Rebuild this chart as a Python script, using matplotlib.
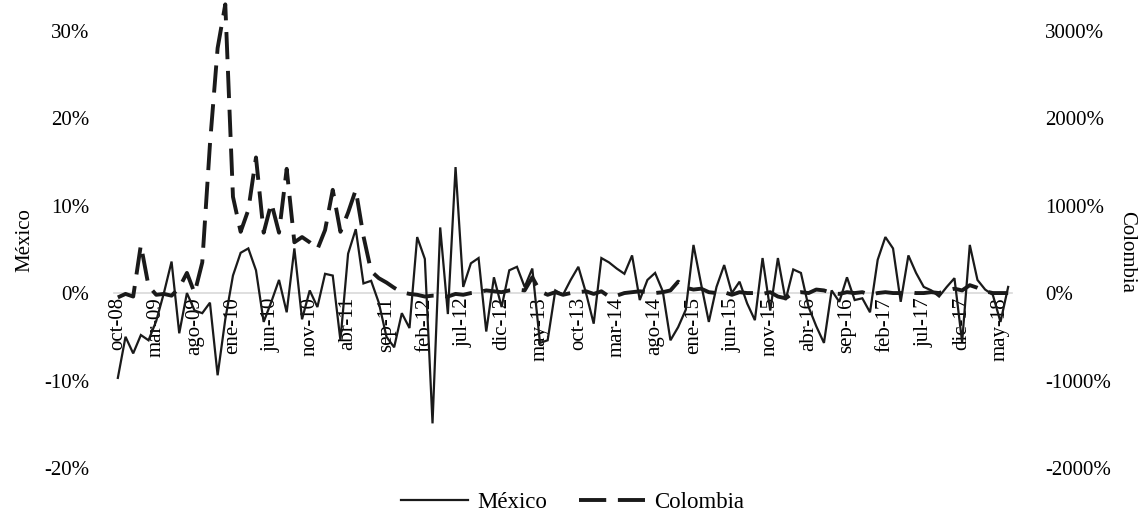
import matplotlib
matplotlib.use("Agg")
import matplotlib.pyplot as plt
from matplotlib.ticker import FuncFormatter

plt.rcParams['font.family'] = ['Liberation Serif', 'DejaVu Serif']

# Monthly series, oct-08 .. jun-18
mexico = [
    -9.7, -5.0, -6.9, -4.8, -5.4, -3.2, 0.0, 3.6, -4.6, 0.0,
    -2.0, -2.3, -1.1, -9.4, -3.0, 2.0, 4.6, 5.1, 2.6, -3.3,
    -1.0, 1.5, -2.2, 5.1, -3.0, 0.3, -1.6, 2.2, 2.0, -5.4,
    4.5, 7.3, 1.1, 1.4, -1.1, -5.0, -6.2, -2.3, -4.0, 6.4,
    3.9, -14.9, 7.5, -2.4, 14.4, 0.7, 3.4, 4.0, -4.4, 1.8,
    -1.6, 2.6, 3.0, 0.7, 2.8, -5.7, -5.4, 0.3, -0.2, 1.5,
    3.0, 0.0, -3.5, 4.0, 3.5, 2.8, 2.2, 4.3, -0.8, 1.5,
    2.3, 0.2, -5.4, -3.9, -1.9, 5.5, 1.0, -3.3, 0.7, 3.2,
    0.0, 1.3, -1.2, -3.1, 4.0, -2.0, 4.0, -0.8, 2.7, 2.3,
    -1.6, -3.8, -5.7, 0.3, -1.0, 1.8, -0.8, -0.6, -2.2, 3.8,
    6.4, 5.1, -1.0, 4.3, 2.3, 0.7, 0.3, -0.4, 0.7, 1.7,
    -5.6, 5.5, 1.5, 0.4, -0.2, -3.3, 0.7,
]
colombia = [
    -50, -10, -40, 550, 80, -20, -10, -30, 60, 230,
    0, 350, 1700, 2800, 3300, 1100, 700, 950, 1550, 690,
    1030, 690, 1420, 580, 640, 580, 500, 720, 1180, 700,
    920, 1180, 650, 250, 170, 120, 60, 10, -10, -20,
    -40, -30, -30, -40, -10, -20, 0, 10, 30, 20,
    10, 30, 40, 30, 180, 20, -20, 10, -20, 0,
    10, 20, -10, 20, -40, -30, 0, 10, 20, 10,
    0, 10, 30, 130, 60, 40, 50, 10, 0, 10,
    -20, 10, 0, 0, -10, 10, -40, -60, 0, 10,
    0, 40, 30, 0, -10, 10, 0, 10, -20, 0,
    10, 0, 0, 10, 0, 0, 10, 0, 30, 50,
    30, 90, 60, 20, 0, 0, 0,
]
tick_labels = [
    'oct-08', 'mar-09', 'ago-09', 'ene-10', 'jun-10', 'nov-10', 'abr-11',
    'sep-11', 'feb-12', 'jul-12', 'dic-12', 'may-13', 'oct-13', 'mar-14',
    'ago-14', 'ene-15', 'jun-15', 'nov-15', 'abr-16', 'sep-16', 'feb-17',
    'jul-17', 'dic-17', 'may-18',
]
left_ticks = [-20, -10, 0, 10, 20, 30]
right_ticks = [-2000, -1000, 0, 1000, 2000, 3000]

W, H = 1146, 531
fig = plt.figure(figsize=(W / 100, H / 100), dpi=100)
ax = fig.add_axes([114 / W, 63 / H, 898 / W, 468 / H])
ax2 = ax.twinx()

x = list(range(len(mexico)))
tick_pos = list(range(0, 5 * len(tick_labels), 5))

for s in ['top', 'right', 'left']:
    ax.spines[s].set_visible(False)
ax.spines['bottom'].set_position(('data', 0))
ax.spines['bottom'].set_color('#d9d9d9')
ax.spines['bottom'].set_linewidth(1.2)
ax.spines['bottom'].set_zorder(1)

lm, = ax.plot(x, mexico, color='#1a1a1a', lw=1.6, solid_joinstyle='miter', zorder=3)
ax.set_xlim(-0.5, len(mexico) - 0.5)
ax.set_ylim(-20, 33.5)
ax.set_yticks(left_ticks)
ax.yaxis.set_major_formatter(FuncFormatter(lambda v, p: f'{v:.0f}%'))
ax.set_xticks(tick_pos)
ax.set_xticklabels(tick_labels)
ax.tick_params(axis='x', length=0, pad=3, labelsize=15, labelrotation=90)
ax.tick_params(axis='y', length=0, pad=18, labelsize=15)

lc, = ax2.plot(x, colombia, color='#1a1a1a', lw=2.8, dashes=(7, 3), zorder=3)
ax2.set_ylim(-2000, 3350)
ax2.set_yticks(right_ticks)
ax2.yaxis.set_major_formatter(FuncFormatter(lambda v, p: f'{v:.0f}%'))
ax2.tick_params(axis='y', length=0, pad=24, labelsize=15)
for s in ax2.spines.values():
    s.set_visible(False)

fig.text(25 / W, 1 - 240 / H, 'México', rotation=90, ha='center', va='center', fontsize=15)
fig.text(1127 / W, 1 - 252 / H, 'Colombia', rotation=270, ha='center', va='center', fontsize=15)

fig.legend([lm, lc], ['México', 'Colombia'], loc='lower center', ncol=2,
           bbox_to_anchor=(0.5, -0.005), frameon=False, fontsize=16.5,
           handlelength=2.9, columnspacing=1.4, handletextpad=0.4)

fig.savefig('out.png', dpi=100)
